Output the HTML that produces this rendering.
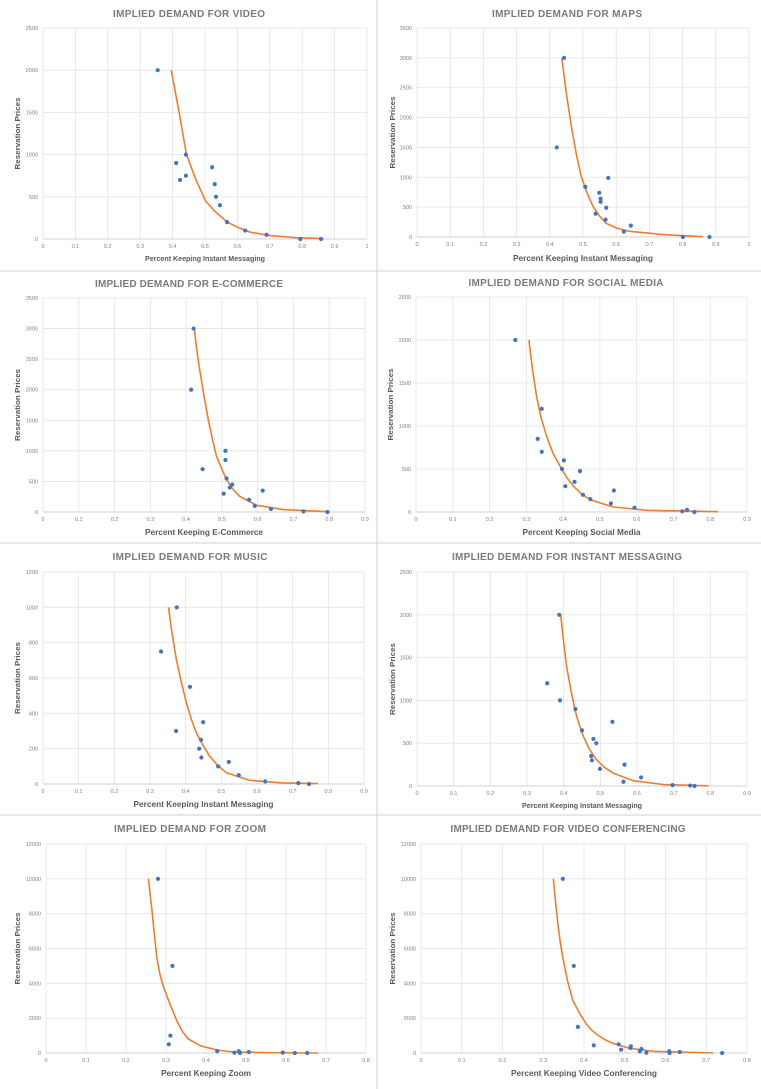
<!DOCTYPE html>
<html><head><meta charset="utf-8"><style>
html,body{margin:0;padding:0;background:#fff;}
svg{display:block;font-family:"Liberation Sans",sans-serif;}
</style></head><body>
<svg id="s" width="761" height="1089" viewBox="0 0 761 1089" xmlns="http://www.w3.org/2000/svg"></svg>
<script>
// ---- data ----
const c1X=[0.354,0.411,0.423,0.441,0.441,0.522,0.530,0.534,0.546,0.568,0.624,0.690,0.794,0.858];
const c1Y=[2000,900,700,1000,750,850,650,500,400,200,100,50,0,0];
const c1CX=[0.396,0.420,0.443,0.470,0.502,0.530,0.567,0.600,0.640,0.700,0.780,0.866];
const c1CY=[2000,1500,1000,720,450,330,205,140,80,40,15,5];
const c2X=[0.443,0.421,0.507,0.576,0.549,0.553,0.553,0.538,0.570,0.568,0.644,0.623,0.801,0.881];
const c2Y=[3000,1500,840,990,740,640,590,390,490,290,190,90,0,0];
const c2CX=[0.436,0.450,0.465,0.480,0.495,0.512,0.530,0.550,0.570,0.600,0.640,0.740,0.861];
const c2CY=[3000,2400,1850,1380,1010,740,510,350,230,150,95,40,5];
const c3X=[0.421,0.414,0.446,0.510,0.510,0.513,0.529,0.522,0.505,0.614,0.576,0.592,0.637,0.728,0.795];
const c3Y=[3000,2000,700,1000,850,550,450,400,300,350,200,100,50,10,0];
const c3CX=[0.423,0.430,0.438,0.450,0.462,0.474,0.485,0.500,0.513,0.530,0.550,0.597,0.672,0.797];
const c3CY=[3000,2650,2325,1900,1510,1180,910,700,530,380,255,110,40,5];
const c4X=[0.270,0.342,0.331,0.342,0.402,0.397,0.446,0.431,0.406,0.454,0.474,0.530,0.538,0.594,0.724,0.737,0.757];
const c4Y=[2000,1200,850,700,600,500,475,350,300,200,150,100,250,50,8,25,0];
const c4CX=[0.307,0.317,0.328,0.340,0.355,0.372,0.392,0.410,0.428,0.450,0.473,0.536,0.627,0.821];
const c4CY=[2000,1650,1343,1100,880,690,530,400,300,210,143,58,20,4];
const c5X=[0.375,0.331,0.412,0.373,0.449,0.443,0.438,0.444,0.491,0.521,0.549,0.623,0.716,0.746];
const c5Y=[1000,750,550,300,350,250,200,150,100,125,50,15,5,0];
const c5CX=[0.352,0.362,0.374,0.388,0.402,0.416,0.430,0.448,0.467,0.490,0.514,0.579,0.673,0.771];
const c5CY=[1000,850,703,575,459,365,290,220,158,105,64,21,6,2];
const c6X=[0.388,0.355,0.390,0.432,0.450,0.533,0.481,0.489,0.475,0.477,0.499,0.566,0.563,0.611,0.697,0.745,0.757];
const c6Y=[2000,1200,1000,900,650,750,550,500,350,300,200,250,50,100,10,5,0];
const c6CX=[0.392,0.400,0.408,0.420,0.431,0.442,0.454,0.470,0.490,0.512,0.536,0.590,0.672,0.795];
const c6CY=[2000,1680,1394,1120,888,720,576,430,304,215,148,62,16,2];
const c7X=[0.280,0.316,0.311,0.307,0.428,0.471,0.482,0.485,0.507,0.592,0.622,0.653];
const c7Y=[10000,5000,1000,500,100,20,100,0,60,20,0,0];
const c7CX=[0.256,0.260,0.265,0.271,0.277,0.285,0.294,0.310,0.327,0.342,0.356,0.385,0.427,0.469,0.552,0.681];
const c7CY=[10000,9200,8160,6800,5484,4500,3764,2800,1853,1200,803,420,172,57,19,0];
const c8X=[0.348,0.375,0.385,0.424,0.485,0.491,0.515,0.514,0.541,0.537,0.553,0.609,0.610,0.635,0.739];
const c8Y=[10000,5000,1500,440,500,190,380,290,230,100,20,100,0,60,0];
const c8CX=[0.325,0.330,0.336,0.342,0.348,0.360,0.373,0.390,0.406,0.418,0.430,0.450,0.471,0.512,0.569,0.717];
const c8CY=[10000,8700,7395,6300,5484,4100,3000,2250,1662,1330,1089,780,554,268,96,0];
const xTicks10=["0","0.1","0.2","0.3","0.4","0.5","0.6","0.7","0.8","0.9","1"];
const xTicks9=["0","0.1","0.2","0.3","0.4","0.5","0.6","0.7","0.8","0.9"];
const xTicks8=["0","0.1","0.2","0.3","0.4","0.5","0.6","0.7","0.8"];
const yTicks2500=["0","500","1000","1500","2000","2500"];
const yTicks3500=["0","500","1000","1500","2000","2500","3000","3500"];
const yTicks1200=["0","200","400","600","800","1000","1200"];
const yTicks12000=["0","2000","4000","6000","8000","10000","12000"];

const charts=[
 {n:"video",title:"IMPLIED DEMAND FOR VIDEO",tw:152,tcx:189,ty:17,xl:"Percent Keeping Instant Messaging",xw:120,xy:261,xfs:7.5,ylx:17,l:43,r:367,t:28,b:239,xt:xTicks10,yt:yTicks2500,X:c1X,Y:c1Y,CX:c1CX,CY:c1CY},
 {n:"maps",title:"IMPLIED DEMAND FOR MAPS",tw:150,tcx:567,ty:17,xl:"Percent Keeping Instant Messaging",xw:140,xy:261,xfs:8.5,ylx:392,l:417,r:749,t:28,b:237,xt:xTicks10,yt:yTicks3500,X:c2X,Y:c2Y,CX:c2CX,CY:c2CY},
 {n:"e-commerce",title:"IMPLIED DEMAND FOR E-COMMERCE",tw:188,tcx:189,ty:287,xl:"Percent Keeping E-Commerce",xw:118,xy:535,xfs:8.5,ylx:17,l:43,r:365,t:298,b:512,xt:xTicks9,yt:yTicks3500,X:c3X,Y:c3Y,CX:c3CX,CY:c3CY},
 {n:"social-media",title:"IMPLIED DEMAND FOR SOCIAL MEDIA",tw:195,tcx:566,ty:286,xl:"Percent Keeping Social Media",xw:118,xy:535,xfs:8.5,ylx:390,l:416,r:747,t:297,b:512,xt:xTicks9,yt:yTicks2500,X:c4X,Y:c4Y,CX:c4CX,CY:c4CY},
 {n:"music",title:"IMPLIED DEMAND FOR MUSIC",tw:155,tcx:190,ty:560,xl:"Percent Keeping Instant Messaging",xw:140,xy:807,xfs:8.5,ylx:17,l:43,r:364,t:572,b:784,xt:xTicks9,yt:yTicks1200,X:c5X,Y:c5Y,CX:c5CX,CY:c5CY},
 {n:"instant-messaging",title:"IMPLIED DEMAND FOR INSTANT MESSAGING",tw:230,tcx:567,ty:560,xl:"Percent Keeping Instant Messaging",xw:120,xy:808,xfs:7.5,ylx:392,l:417,r:747,t:572,b:786,xt:xTicks9,yt:yTicks2500,X:c6X,Y:c6Y,CX:c6CX,CY:c6CY},
 {n:"zoom",title:"IMPLIED DEMAND FOR ZOOM",tw:152,tcx:190,ty:832,xl:"Percent Keeping Zoom",xw:90,xy:1076,xfs:8.5,ylx:17,l:46,r:366,t:844,b:1053,xt:xTicks8,yt:yTicks12000,X:c7X,Y:c7Y,CX:c7CX,CY:c7CY},
 {n:"video-conferencing",title:"IMPLIED DEMAND FOR VIDEO CONFERENCING",tw:235,tcx:568,ty:832,xl:"Percent Keeping Video Conferencing",xw:146,xy:1076,xfs:8.5,ylx:392,l:421,r:747,t:844,b:1053,xt:xTicks8,yt:yTicks12000,X:c8X,Y:c8Y,CX:c8CX,CY:c8CY}
];
const NS="http://www.w3.org/2000/svg";
const svg=document.getElementById('s');
function mk(tag,attrs,parent){const e=document.createElementNS(NS,tag);for(const k in attrs)e.setAttribute(k,attrs[k]);(parent||svg).appendChild(e);return e;}
// panel separators
[[377,0,377,1089],[0,271,761,271],[0,543,761,543],[0,815,761,815]].forEach(s=>{
 const ln=mk('line',{x1:s[0],y1:s[1],x2:s[2],y2:s[3],stroke:'#d9d9d9','stroke-width':1.2});
 
 
});
charts.forEach(c=>{
 const g=mk('g',{});
 
 
 const xmax=parseFloat(c.xt[c.xt.length-1]), ymax=parseFloat(c.yt[c.yt.length-1]);
 const sx=v=>c.l+(v/xmax)*(c.r-c.l);
 const sy=v=>c.b-(v/ymax)*(c.b-c.t);
 // grid
 c.xt.forEach(t=>{const x=sx(parseFloat(t));
  const gl=mk('line',{x1:x,y1:c.t,x2:x,y2:c.b,stroke:'#e3e3e3','stroke-width':0.8},g);
  
  
  const tx=mk('text',{x:x,y:c.b+9,'font-size':5.5,fill:'#808080','text-anchor':'middle'},g);tx.textContent=t;
  
  
 });
 c.yt.forEach(t=>{const y=sy(parseFloat(t));
  const gl=mk('line',{x1:c.l,y1:y,x2:c.r,y2:y,stroke:'#e3e3e3','stroke-width':0.8},g);
  
  
  const tx=mk('text',{x:c.l-5,y:y+2,'font-size':5.5,fill:'#808080','text-anchor':'end'},g);tx.textContent=t;
  
  
 });
 const ax=mk('line',{x1:c.l,y1:c.b,x2:c.r,y2:c.b,stroke:'#d0d0d0','stroke-width':1},g);
 
 
 // title
 const ti=mk('text',{x:c.tcx-c.tw/2,y:c.ty,'font-size':10,'font-weight':'bold',fill:'#7a7a7a',textLength:c.tw,lengthAdjust:'spacing'},g);ti.textContent=c.title;
 
 
 const xl=mk('text',{x:(c.l+c.r)/2-c.xw/2,y:c.xy,'font-size':c.xfs,'font-weight':'bold',fill:'#595959',textLength:c.xw,lengthAdjust:'spacingAndGlyphs'},g);xl.textContent=c.xl;
 
 
 const cy=(c.t+c.b)/2;
 const yl=mk('text',{x:c.ylx+3,y:cy+36,'font-size':7.5,'font-weight':'bold',fill:'#595959',textLength:72,lengthAdjust:'spacingAndGlyphs',transform:`rotate(-90 ${c.ylx+3} ${cy+36})`},g);yl.textContent="Reservation Prices";
 
 
 // curve
 let d='';c.CX.forEach((v,i)=>{d+=(i?'L':'M')+sx(v).toFixed(1)+' '+sy(c.CY[i]).toFixed(1);});
 const p=mk('path',{d:d,fill:'none',stroke:'#ed7d31','stroke-width':1.6,'stroke-linejoin':'round'},g);
 
 
 c.X.forEach((v,i)=>{
  const pt=mk('circle',{cx:sx(v),cy:sy(c.Y[i]),r:2.1,fill:'#4472c4'},g);
  
  
 });
});
</script>
</body></html>
